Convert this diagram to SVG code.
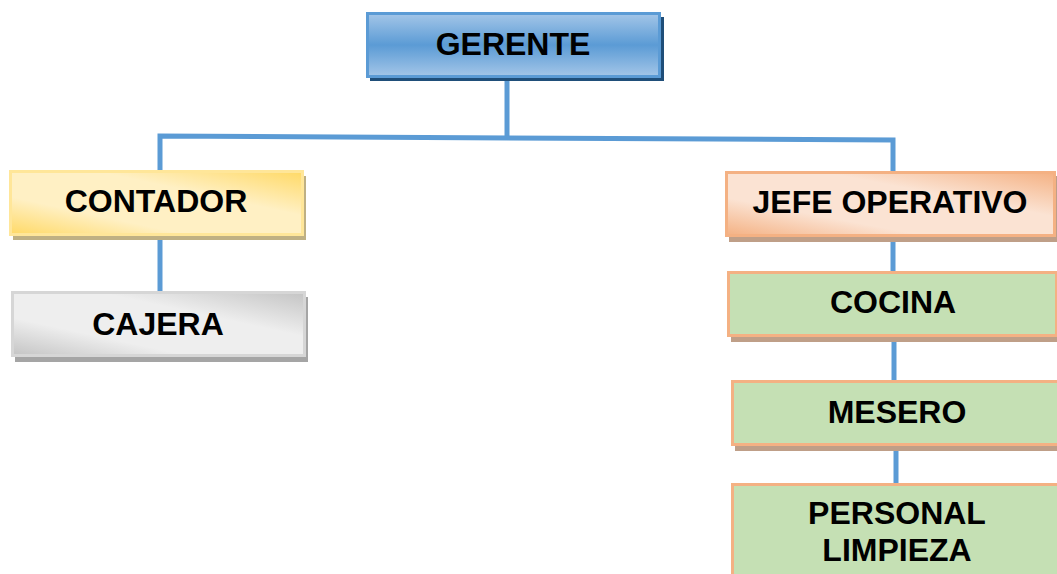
<svg xmlns="http://www.w3.org/2000/svg" width="1057" height="574" viewBox="0 0 1057 574">
<defs>
<linearGradient id="gBlue" x1="0" y1="0" x2="0" y2="1">
<stop offset="0" stop-color="#A4C6E8"/><stop offset="0.5" stop-color="#5B9BD5"/><stop offset="1" stop-color="#A4C6E8"/>
</linearGradient>
<linearGradient id="gYel" x1="0" y1="1" x2="1" y2="0">
<stop offset="0" stop-color="#FFD966"/><stop offset="0.3" stop-color="#FFF0C4"/><stop offset="0.65" stop-color="#FFF0C4"/><stop offset="1" stop-color="#FFD966"/>
</linearGradient>
<linearGradient id="gGray" x1="0" y1="1" x2="1" y2="0">
<stop offset="0" stop-color="#C4C4C4"/><stop offset="0.3" stop-color="#EEEEEE"/><stop offset="0.65" stop-color="#EEEEEE"/><stop offset="1" stop-color="#C4C4C4"/>
</linearGradient>
<linearGradient id="gPeach" x1="0" y1="1" x2="1" y2="0">
<stop offset="0" stop-color="#F4B183"/><stop offset="0.3" stop-color="#FBE3D3"/><stop offset="0.65" stop-color="#FBE3D3"/><stop offset="1" stop-color="#F4B183"/>
</linearGradient>
</defs>
<style>
.t{font-family:"Liberation Sans",Arial,sans-serif;font-weight:bold;font-size:32px;fill:#000;text-anchor:middle}
.ln{stroke:#5B9BD5;stroke-width:5;fill:none}
.green{fill:#C5E0B4;stroke:#F4B183;stroke-width:3}
.gsh{fill:#BF9F88}
</style>
<g id="connectors">
<path class="ln" d="M507 80 V138"/>
<path class="ln" d="M160 174 V136 L893 140 V174"/>
<path class="ln" d="M160 236 V293"/>
<path class="ln" d="M893 238 V272"/>
<path class="ln" d="M894 338 V382"/>
<path class="ln" d="M896 447 V484"/>
</g>
<g id="gerente">
<rect x="370" y="17" width="294" height="64" fill="#1F4E79"/>
<rect x="367.5" y="13.5" width="292" height="63" fill="url(#gBlue)" stroke="#5B9BD5" stroke-width="3"/>
<text class="t" x="513" y="55">GERENTE</text>
</g>
<g id="contador">
<rect x="13" y="176" width="293" height="64" fill="#BFB083"/>
<rect x="10.5" y="171.5" width="292" height="63" fill="url(#gYel)" stroke="#FFE699" stroke-width="3"/>
<text class="t" x="156" y="212">CONTADOR</text>
</g>
<g id="cajera">
<rect x="15" y="297" width="293" height="65" fill="#A5A5A5"/>
<rect x="12.5" y="292.5" width="292" height="63" fill="url(#gGray)" stroke="#D6D6D6" stroke-width="3"/>
<text class="t" x="158" y="335">CAJERA</text>
</g>
<g id="jefe-operativo">
<rect x="729" y="176" width="330" height="66" class="gsh"/>
<rect x="726.5" y="172.5" width="328" height="63" fill="url(#gPeach)" stroke="#F4B183" stroke-width="3"/>
<text class="t" x="890" y="213">JEFE OPERATIVO</text>
</g>
<g id="cocina">
<rect x="731" y="276" width="330" height="66" class="gsh"/>
<rect x="728.5" y="272.5" width="328" height="63" class="green"/>
<text class="t" x="893" y="313">COCINA</text>
</g>
<g id="mesero">
<rect x="735" y="386" width="330" height="65" class="gsh"/>
<rect x="732.5" y="381.5" width="328" height="63" class="green"/>
<text class="t" x="897" y="423">MESERO</text>
</g>
<g id="personal-limpieza">
<rect x="732.5" y="484.5" width="328" height="100" class="green"/>
<text class="t" x="897" y="524">PERSONAL</text>
<text class="t" x="897" y="561">LIMPIEZA</text>
</g>
</svg>
